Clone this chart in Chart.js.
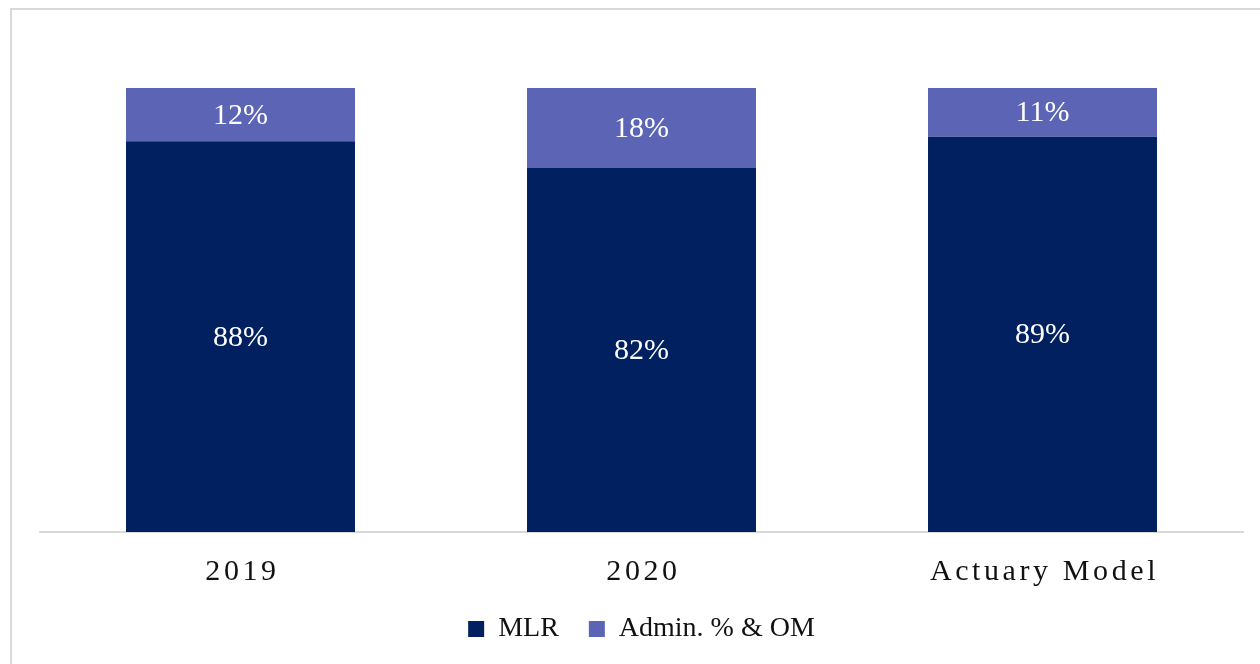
<!DOCTYPE html>
<html>
<head>
<meta charset="utf-8">
<script src="https://cdn.jsdelivr.net/npm/chart.js@4"></script>
<style>
  body { margin: 0; background: #fff; }
  #wrap { position: relative; width: 1260px; height: 664px; overflow: hidden; }
  #frame { position: absolute; left: 10px; top: 8px; width: 1300px; height: 700px;
           border-top: 2px solid #d9d9d9; border-left: 2px solid #d9d9d9; }
  #graph { position: absolute; left: 0; top: 0; }
</style>
</head>
<body>
<div id="wrap">
  <div id="frame"></div>
  <canvas id="graph" width="1260" height="664"></canvas>
</div>
<script>
const categories = ["2019", "2020", "Actuary Model"];
const mlr = [88, 82, 89];
const admin = [12, 18, 11];

const serif = "'Liberation Serif', 'DejaVu Serif', serif";

// white percentage in the middle of each segment
const segmentLabels = {
    id: 'segmentLabels',
    afterDatasetsDraw(chart) {
        const ctx = chart.ctx;
        ctx.save();
        ctx.fillStyle = '#ffffff';
        ctx.font = '30px ' + serif;
        ctx.textAlign = 'center';
        ctx.textBaseline = 'middle';
        chart.data.datasets.forEach((ds, d) => {
            chart.getDatasetMeta(d).data.forEach((bar, i) => {
                ctx.fillText(ds.data[i] + '%', bar.x, (bar.y + bar.base) / 2 + 1);
            });
        });
        ctx.restore();
    }
};

// category names with wide letter spacing
const spacedTicks = {
    id: 'spacedTicks',
    afterDraw(chart) {
        const ctx = chart.ctx;
        const x = chart.scales.x;
        ctx.save();
        ctx.fillStyle = '#111111';
        ctx.font = '30px ' + serif;
        ctx.letterSpacing = '3.6px';
        ctx.textAlign = 'center';
        ctx.textBaseline = 'middle';
        categories.forEach((c, i) => {
            ctx.fillText(c, x.getPixelForTick(i) + 2, 572);
        });
        ctx.restore();
    }
};

new Chart(document.getElementById('graph'), {
    type: 'bar',
    data: {
        labels: categories,
        datasets: [
            { label: 'MLR', data: mlr, backgroundColor: '#002060' },
            { label: 'Admin. % & OM', data: admin, backgroundColor: '#5c64b6' }
        ]
    },
    options: {
        responsive: false,
        devicePixelRatio: 1,
        animation: false,
        layout: { padding: { top: 88, left: 40, right: 17, bottom: 11 } },
        datasets: { bar: { categoryPercentage: 1, barPercentage: 0.571 } },
        scales: {
            x: {
                stacked: true,
                grid: { display: false },
                border: { color: '#d9d9d9', width: 2 },
                ticks: { color: 'rgba(0,0,0,0)', font: { size: 30, family: serif } },
                afterFit(scale) { scale.height = 53; }
            },
            y: { stacked: true, min: 0, max: 100, display: false }
        },
        plugins: {
            legend: {
                position: 'bottom',
                labels: {
                    color: '#111111',
                    font: { size: 28, family: serif },
                    boxWidth: 16,
                    boxHeight: 16,
                    padding: 30
                }
            },
            tooltip: { enabled: false }
        }
    },
    plugins: [segmentLabels, spacedTicks]
});
</script>
</body>
</html>
